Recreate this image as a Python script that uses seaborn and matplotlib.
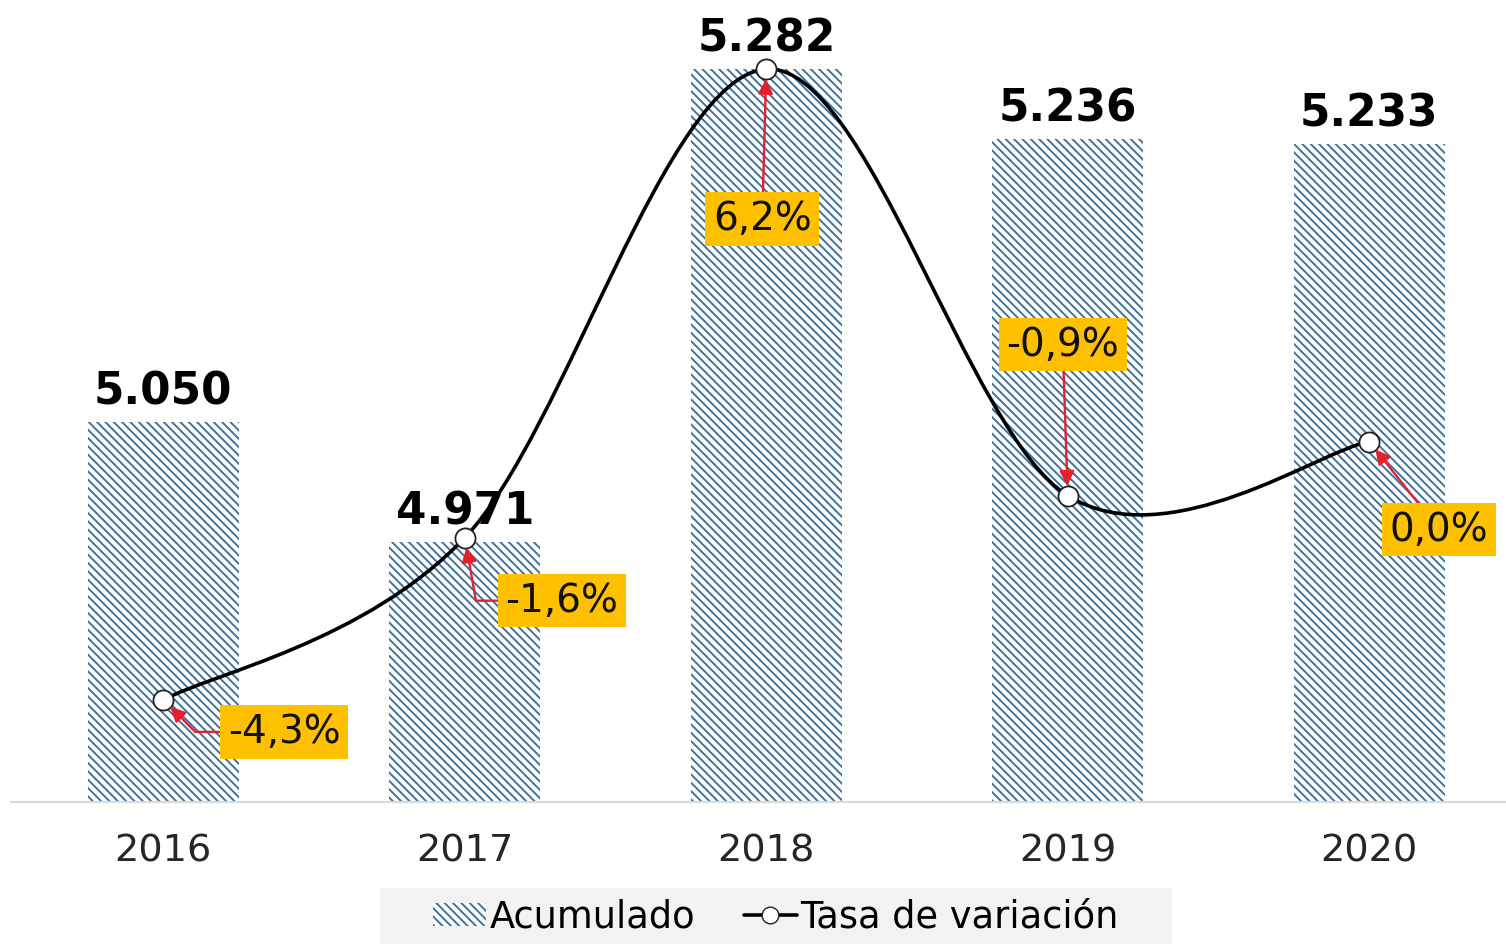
import matplotlib.pyplot as plt
import pandas as pd
import seaborn as sns
from matplotlib.lines import Line2D
from matplotlib.patches import Patch, PathPatch, Rectangle
from matplotlib.path import Path

years = ["2016", "2017", "2018", "2019", "2020"]
acumulado = [5050, 4971, 5282, 5236, 5233]
tasa = [-4.3, -1.6, 6.2, -0.9, 0.0]
tasa_labels = ["-4,3%", "-1,6%", "6,2%", "-0,9%", "0,0%"]

# where each yellow label sits relative to its point (pixels) and how its arrow bends
label_offsets = [(121, -32), (97, -63), (-4, -150), (-5, 151), (70, -88)]
arrow_bends = [
    "angle,angleA=0,angleB=-45",
    "angle,angleA=0,angleB=-80",
    "arc3",
    "arc3",
    "arc3",
]

BLUE = "#41729C"
ORANGE = "#FFC000"
ARROW = "#E5202B"
HATCH = "\\\\\\\\"

sns.set_style("white")
plt.rcParams["font.family"] = ["DejaVu Sans"]
plt.rcParams["hatch.linewidth"] = 1.4

df = pd.DataFrame({"year": years, "acumulado": acumulado, "tasa": tasa})

fig = plt.figure(figsize=(15.06, 9.44), dpi=100)
ax = fig.add_axes([0.007, 0.1504, 0.993, 0.8496])

sns.barplot(
    data=df,
    x="year",
    y="acumulado",
    ax=ax,
    color="white",
    saturation=1,
    width=0.5,
    edgecolor=BLUE,
    linewidth=0,
    hatch=HATCH,
)
ax.bar_label(
    ax.containers[0],
    labels=[f"{v:,}".replace(",", ".") for v in acumulado],
    padding=6,
    fontsize=31.5,
    fontweight="bold",
    color="black",
)

ax.set_xlim(-0.507, 4.454)
ax.set_ylim(4800, 5327.6)
ax.set_xlabel("")
ax.set_ylabel("")
ax.set_yticks([])
ax.tick_params(axis="x", length=0, pad=23, labelsize=27.5, labelcolor="#262626")
for side in ["left", "right", "top"]:
    ax.spines[side].set_visible(False)
ax.spines["bottom"].set_color("#D9D9D9")
ax.spines["bottom"].set_linewidth(1.5)

# secondary axis for the rate line
ax2 = ax.twinx()
ax2.set_ylim(-6.0, 7.35)
ax2.set_yticks([])
for side in ["left", "right", "top", "bottom"]:
    ax2.spines[side].set_visible(False)

# smoothed line (Catmull-Rom style bezier, like Excel's smoothed line)
pts = list(zip(range(len(tasa)), tasa))
n = len(pts)
verts = [pts[0]]
codes = [Path.MOVETO]
for i in range(n - 1):
    p0 = pts[max(i - 1, 0)]
    p1 = pts[i]
    p2 = pts[i + 1]
    p3 = pts[min(i + 2, n - 1)]
    c1 = (p1[0] + (p2[0] - p0[0]) / 6, p1[1] + (p2[1] - p0[1]) / 6)
    c2 = (p2[0] - (p3[0] - p1[0]) / 6, p2[1] - (p3[1] - p1[1]) / 6)
    verts += [c1, c2, p2]
    codes += [Path.CURVE4] * 3
ax2.add_patch(
    PathPatch(Path(verts, codes), fill=False, lw=2.6, edgecolor="black", zorder=3,
              capstyle="round", joinstyle="round")
)

sns.scatterplot(
    x=list(range(len(tasa))),
    y=tasa,
    ax=ax2,
    s=210,
    color="white",
    edgecolor="#222222",
    linewidth=1.3,
    zorder=4,
    legend=False,
)
ax2.set_xlim(-0.507, 4.454)

for i, (val, lab) in enumerate(zip(tasa, tasa_labels)):
    dx, dy = label_offsets[i]
    ax2.annotate(
        lab,
        xy=(i, val),
        xytext=(dx, dy),
        textcoords="offset pixels",
        ha="center",
        va="center",
        fontsize=28,
        color="#111111",
        zorder=5,
        bbox=dict(boxstyle="square,pad=0.2", fc=ORANGE, ec="none"),
        arrowprops=dict(
            arrowstyle="-|>",
            color=ARROW,
            lw=1.7,
            mutation_scale=22,
            shrinkA=0,
            shrinkB=7,
            connectionstyle=arrow_bends[i],
        ),
    )

# legend sits on a flat light grey strip at the bottom
fig.patches.append(
    Rectangle((380 / 1506, 0), 792 / 1506, 56 / 944, transform=fig.transFigure,
              facecolor="#F2F2F2", edgecolor="none", zorder=0)
)
handles = [
    Patch(facecolor="white", edgecolor=BLUE, linewidth=0, hatch=HATCH),
    Line2D([], [], color="black", lw=2.6, marker="o", markersize=12,
           markerfacecolor="white", markeredgecolor="#222222"),
]
fig.legend(
    handles,
    ["Acumulado", "Tasa de variación"],
    loc="center",
    bbox_to_anchor=(776 / 1506, 27 / 944),
    ncol=2,
    fontsize=26.5,
    labelcolor="black",
    frameon=False,
    handlelength=1.45,
    handleheight=0.6,
    handletextpad=0.1,
    columnspacing=1.3,
    borderpad=0,
)

fig.savefig("out.png", dpi=100)
